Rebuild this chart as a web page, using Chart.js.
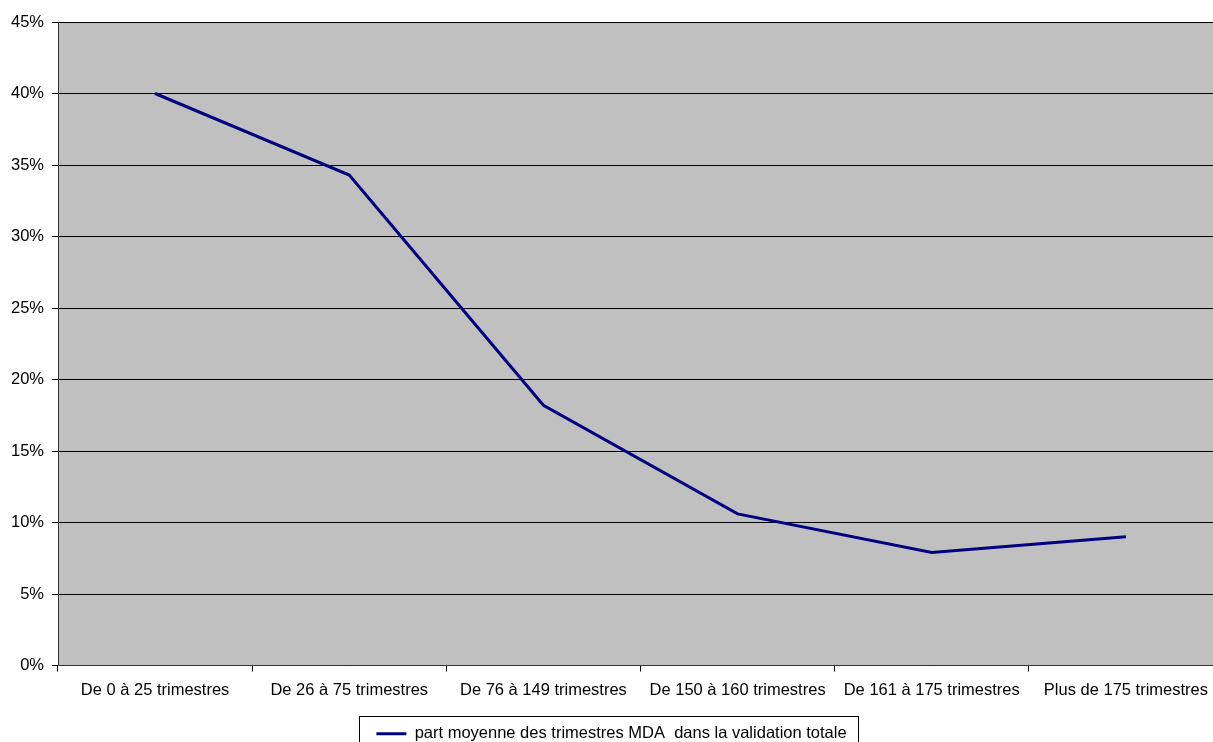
<!DOCTYPE html>
<html lang="fr">
<head>
<meta charset="utf-8">
<title>Part moyenne des trimestres MDA</title>
<script src="https://cdn.jsdelivr.net/npm/chart.js@4/dist/chart.umd.min.js"></script>
<style>
  html, body { margin: 0; padding: 0; background: #ffffff; overflow: hidden; }
  #wrap { position: relative; width: 1225px; height: 752px; }
</style>
</head>
<body>
<div id="wrap"><canvas id="chart"></canvas></div>
<script>
// Tranches de durée validée
const categories = [
  'De 0 à 25 trimestres',
  'De 26 à 75 trimestres',
  'De 76 à 149 trimestres',
  'De 150 à 160 trimestres',
  'De 161 à 175 trimestres',
  'Plus de 175 trimestres'
];

// Part moyenne (en %) des trimestres MDA dans la validation totale
const seriesLabel = 'part moyenne des trimestres MDA  dans la validation totale';
const partMDA = [40.0, 34.3, 18.2, 10.6, 7.9, 9.0];

// Graduations de l'axe vertical (en %)
const yMin = 0;
const yMax = 45;
const yStep = 5;

const FONT = { family: '"Liberation Sans", Arial, sans-serif', size: 16.5 };

// Fond gris de la zone de tracé
const plotBackground = {
  id: 'plotBackground',
  beforeDraw(chart) {
    const { ctx, chartArea: a } = chart;
    ctx.save();
    ctx.fillStyle = '#c0c0c0';
    ctx.fillRect(a.left, a.top, a.right - a.left, a.bottom - a.top);
    ctx.restore();
  }
};

// Cadre autour de la légende
const legendFrame = {
  id: 'legendFrame',
  afterDraw(chart) {
    const boxes = chart.legend && chart.legend.legendHitBoxes;
    if (!boxes || !boxes.length) return;
    const hb = boxes[0];
    const { ctx } = chart;
    ctx.save();
    ctx.strokeStyle = '#000000';
    ctx.lineWidth = 1;
    const left = Math.round(hb.left - 17) + 0.5;
    const right = Math.round(hb.left + hb.width + 11) + 0.5;
    const top = Math.round(hb.top - 10) + 0.5;
    ctx.strokeRect(left, top, right - left, 80);
    ctx.restore();
  }
};

new Chart(document.getElementById('chart'), {
  type: 'line',
  data: {
    labels: categories,
    datasets: [{
      label: seriesLabel,
      data: partMDA,
      borderColor: '#000080',
      backgroundColor: '#000080',
      borderWidth: 3,
      pointRadius: 0,
      pointHoverRadius: 0,
      tension: 0,
      fill: false
    }]
  },
  options: {
    responsive: true,
    maintainAspectRatio: false,
    animation: false,
    events: [],
    layout: { padding: { top: 22, left: 0, right: 2, bottom: 0 } },
    scales: {
      x: {
        type: 'category',
        offset: true,
        afterFit(scale) { scale.height = 52; },
        grid: {
          offset: true,
          drawOnChartArea: false,
          drawTicks: true,
          tickLength: 6,
          color: '#000000'
        },
        border: { display: true, color: '#333333', width: 1 },
        ticks: {
          color: '#000000',
          font: FONT,
          padding: 9,
          maxRotation: 0,
          autoSkip: false
        }
      },
      y: {
        min: yMin,
        max: yMax,
        afterFit(scale) { scale.width = 58; },
        grid: {
          color: '#000000',
          lineWidth: 1,
          drawTicks: true,
          tickLength: 6
        },
        border: { display: true, color: '#333333', width: 1 },
        ticks: {
          stepSize: yStep,
          color: '#000000',
          font: FONT,
          padding: 8,
          callback: (v) => v + '%'
        }
      }
    },
    plugins: {
      tooltip: { enabled: false },
      legend: {
        display: true,
        position: 'bottom',
        labels: {
          color: '#000000',
          font: FONT,
          boxWidth: 30,
          boxHeight: 3,
          padding: 8,
          generateLabels(chart) {
            const items = Chart.defaults.plugins.legend.labels.generateLabels(chart);
            items.forEach((it) => {
              it.fillStyle = '#000080';
              it.strokeStyle = '#000080';
              it.lineWidth = 0;
            });
            return items;
          }
        }
      }
    }
  },
  plugins: [plotBackground, legendFrame]
});
</script>
</body>
</html>
